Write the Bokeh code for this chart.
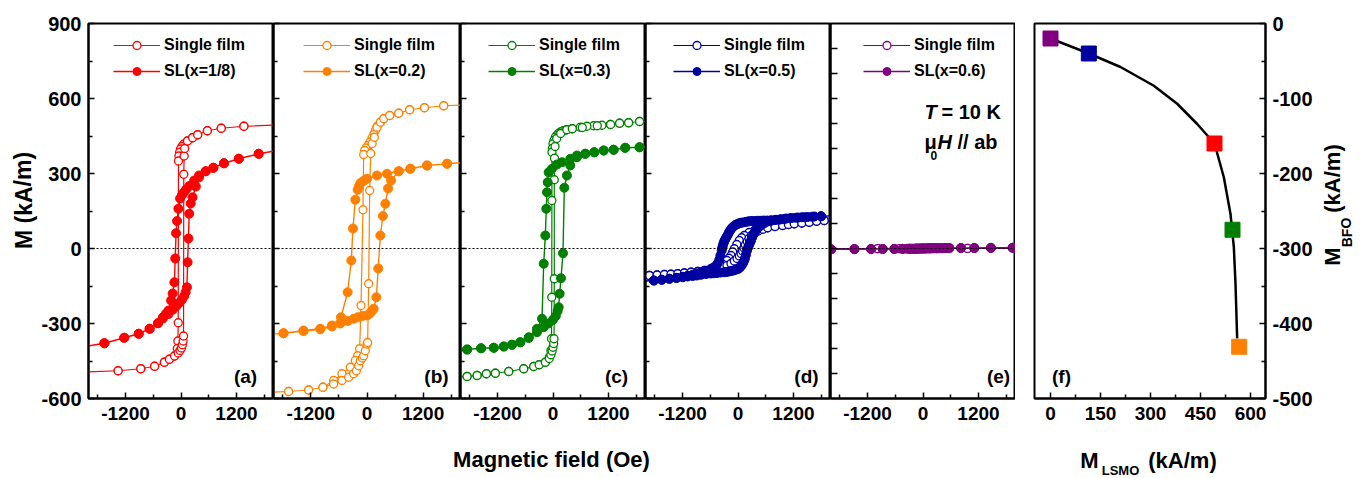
from bokeh.plotting import figure
from bokeh.layouts import row, column
from bokeh.models import FixedTicker, Range1d, Span, Legend, LegendItem, Label, ColumnDataSource
from bokeh.embed import file_html
from bokeh.resources import INLINE

FONT = "Liberation Sans"

# ---------------- data ----------------
# panel (a)  red
a_single_H_down = [2500, 1360, 870, 570, 360, 250, 140, 60, 20, -10, -30, -45, -55, -60, -68, -80, -140, -250, -360, -570, -870, -1360, -2500]
a_single_M_down = [497, 489, 481, 471, 455, 443, 430, 418, 408, 398, 385, 370, 350, -297, -370, -400, -430, -443, -455, -471, -481, -489, -497]
a_single_H_up = [-2500, -1360, -870, -570, -360, -250, -140, -60, -20, 10, 30, 45, 55, 60, 68, 80, 140, 250, 360, 570, 870, 1360, 2500]
a_single_M_up = [-497, -489, -481, -471, -455, -443, -430, -418, -408, -398, -385, -370, -350, 297, 370, 400, 430, 443, 455, 471, 481, 489, 497]
a_sl_H_down = [2500, 1680, 1250, 930, 700, 535, 390, 285, 180, 110, 60, 20, -20, -57, -85, -107, -125, -143, -180, -214, -271, -330, -392, -499, -678, -914, -1227, -1656, -2500]
a_sl_M_down = [405, 379, 359, 341, 323, 309, 292, 272, 250, 236, 224, 213, 200, 159, 110, 61, -40, -135, -180, -208, -248, -262, -275, -299, -321, -341, -357, -379, -405]
a_sl_H_up = [-2500, -1656, -1227, -914, -678, -499, -392, -271, -180, -100, -40, 20, 70, 100, 128, 143, 160, 178, 210, 250, 321, 392, 535, 700, 930, 1250, 1680, 2500]
a_sl_M_up = [-405, -379, -357, -341, -321, -299, -280, -262, -245, -230, -218, -205, -190, -175, -155, -55, 40, 139, 180, 205, 248, 285, 309, 323, 341, 359, 379, 405]

# panel (b)  orange
b_single_H_down = [2500, 1641, 1228, 913, 678, 485, 357, 285, 214, 178, 143, 107, 60, 20, -20, -50, -71, -86, -128, -157, -200, -250, -357, -535, -714, -943, -1249, -1678, -2500]
b_single_M_down = [578, 571, 563, 555, 541, 532, 519, 505, 488, 472, 456, 442, 425, 412, 402, 392, 376, 155, -228, -401, -429, -448, -475, -501, -528, -555, -566, -572, -578]
b_single_H_up = [-2500, -1678, -1249, -943, -714, -535, -392, -285, -228, -178, -143, -100, -71, -36, 0, 13, 36, 57, 80, 110, 157, 214, 285, 357, 485, 678, 913, 1228, 1641, 2500]
b_single_M_up = [-578, -572, -566, -555, -542, -528, -515, -501, -489, -469, -449, -438, -429, -409, -382, -376, -141, 232, 380, 420, 445, 485, 505, 519, 532, 541, 555, 563, 571, 578]
b_sl_H_down = [2500, 1713, 1285, 927, 678, 428, 214, 0, -60, -100, -143, -170, -200, -250, -300, -336, -414, -557, -750, -1000, -1357, -1785, -2500]
b_sl_M_down = [350, 339, 332, 319, 309, 299, 292, 279, 272, 267, 261, 250, 235, 195, 80, -48, -175, -275, -308, -321, -328, -339, -350]
b_sl_H_up = [-2500, -1785, -1357, -1000, -750, -571, -414, -286, -200, -100, 0, 60, 100, 143, 200, 240, 285, 340, 392, 450, 514, 678, 927, 1285, 1713, 2500]
b_sl_M_up = [-350, -339, -330, -323, -312, -300, -290, -281, -275, -270, -268, -260, -252, -241, -195, -80, 52, 130, 179, 240, 272, 309, 319, 332, 339, 350]

# panel (c)  green
c_single_H_down = [2500, 1872, 1635, 1440, 1238, 1058, 879, 734, 590, 410, 300, 231, 170, 123, 80, 50, 20, 0, -15, -22, -24, -27, -32, -45, -80, -166, -300, -417, -633, -957, -1246, -1440, -1641, -1857, -2500]
c_single_M_down = [516, 508, 503, 501, 496, 493, 491, 489, 485, 479, 475, 472, 467, 461, 453, 445, 432, 419, 400, 385, 192, -195, -361, -408, -435, -455, -465, -472, -481, -492, -499, -501, -508, -512, -520]
c_single_H_up = [-2500, -1857, -1641, -1440, -1246, -957, -633, -417, -300, -166, -80, -45, -20, 0, 15, 22, 28, 28, 32, 45, 80, 166, 300, 417, 633, 957, 1246, 1440, 1635, 1872, 2500]
c_single_M_up = [-520, -512, -508, -501, -499, -492, -481, -472, -465, -455, -440, -425, -410, -395, -380, -361, -121, 275, 361, 408, 440, 460, 475, 479, 484, 491, 496, 501, 503, 508, 516]
c_sl_H_down = [2500, 1872, 1562, 1311, 1095, 892, 698, 518, 374, 194, 86, -22, -94, -115, -130, -145, -166, -201, -238, -346, -525, -706, -886, -1065, -1281, -1555, -1857, -2500]
c_sl_M_down = [410, 405, 403, 395, 392, 385, 379, 372, 359, 345, 336, 319, 305, 265, 225, 159, 52, -61, -281, -321, -355, -375, -385, -392, -397, -399, -404, -410]
c_sl_H_up = [-2500, -1857, -1555, -1281, -1065, -886, -706, -525, -346, -200, -100, 0, 60, 100, 123, 144, 173, 216, 245, 302, 374, 518, 698, 892, 1095, 1311, 1562, 1872, 2500]
c_sl_M_up = [-410, -404, -399, -397, -392, -385, -375, -358, -335, -315, -300, -285, -270, -250, -235, -181, -119, -19, 243, 292, 332, 365, 379, 385, 392, 395, 403, 405, 410]

# panel (d)  blue
d_single_H_down = [2500, 1864, 1700, 1540, 1380, 1216, 1090, 965, 800, 641, 500, 352, 240, 136, 80, 28, -25, -80, -115, -151, -195, -238, -330, -439, -580, -727, -870, -1015, -1160, -1303, -1450, -1591, -1750, -1915, -2500]
d_single_M_down = [118, 112, 109, 105, 102, 99, 96, 92, 88, 83, 78, 72, 64, 52, 43, 32, 16, -1, -14, -28, -39, -48, -63, -75, -82, -88, -92, -95, -98, -101, -103, -104, -106, -108, -115]
d_single_H_up = [-2500, -1915, -1750, -1591, -1450, -1303, -1160, -1015, -870, -727, -580, -439, -330, -238, -151, -80, -20, 28, 65, 100, 130, 160, 200, 238, 290, 352, 439, 540, 641, 800, 965, 1090, 1216, 1380, 1540, 1700, 1864, 2500]
d_single_M_up = [-115, -108, -106, -104, -103, -101, -98, -95, -92, -88, -84, -78, -72, -68, -60, -50, -40, -30, -20, -10, 2, 15, 28, 40, 52, 60, 70, 77, 83, 88, 92, 96, 99, 102, 105, 109, 112, 118]
d_sl_H_down = [2500, 1793, 1600, 1432, 1300, 1160, 1040, 929, 820, 713, 630, 550, 480, 425, 360, 300, 250, 209, 160, 100, 60, 28, -10, -50, -85, -116, -145, -170, -190, -209, -235, -260, -280, -296, -315, -330, -342, -352, -380, -404, -440, -480, -530, -583, -690, -799, -890, -979, -1090, -1194, -1330, -1483, -1650, -1821, -2500]
d_sl_M_down = [135, 129, 127, 125, 124, 122, 120, 117, 115, 113, 112, 112, 111, 111, 110, 110, 109, 108, 106, 104, 103, 101, 98, 95, 90, 85, 79, 72, 66, 59, 50, 42, 35, 29, 20, 10, 2, -8, -28, -45, -60, -70, -76, -81, -89, -95, -100, -105, -109, -113, -117, -121, -125, -128, -135]
d_sl_H_up = [-2500, -1821, -1650, -1483, -1330, -1194, -1090, -979, -890, -799, -690, -583, -510, -450, -380, -300, -250, -200, -150, -100, -50, 0, 30, 60, 85, 110, 130, 150, 172, 194, 218, 240, 260, 281, 305, 330, 360, 389, 430, 480, 560, 641, 720, 800, 900, 1000, 1120, 1250, 1380, 1500, 1650, 1800, 2500]
d_sl_M_up = [-135, -128, -125, -121, -118, -115, -112, -110, -108, -105, -102, -100, -99, -98, -96, -95, -94, -92, -90, -88, -85, -82, -78, -72, -66, -58, -50, -40, -25, -8, 4, 14, 23, 32, 44, 55, 64, 72, 82, 90, 100, 108, 111, 114, 116, 118, 121, 123, 125, 126, 128, 129, 135]

# panel (e)  purple
e_single_H_down = [2500, 965, 500, 300, 150, 0, -150, -300, -500, -978, -2500]
e_single_M_down = [1, 0.5, 0.5, 0, 0, 0, 0, 0, -0.5, -0.5, -1]
e_single_H_up = [-2500, -978, -500, -300, -150, 0, 150, 300, 500, 965, 2500]
e_single_M_up = [-1, -0.5, -0.5, 0, 0, 0, 0, 0, 0.5, 0.5, 1]
e_sl_H_down = [2500, 1937, 1468, 1108, 821, 568, 500, 430, 370, 310, 260, 210, 160, 120, 80, 40, 0, -40, -80, -120, -160, -200, -250, -296, -438, -620, -871, -1123, -1483, -1987, -2500]
e_sl_M_down = [3, 3, 2, 2, 2, 1.5, 1.5, 1, 1, 1, 1, 1, 0.5, 0.5, 0.5, 0, 0, 0, -0.5, -0.5, -1, -1, -1, -1.5, -1.5, -2, -2, -2, -3, -3, -3]
e_sl_H_up = [-2500, -1987, -1483, -1123, -871, -620, -438, -350, -280, -220, -170, -130, -90, -50, -10, 30, 70, 110, 150, 190, 230, 280, 330, 400, 480, 568, 821, 1108, 1468, 1937, 2500]
e_sl_M_up = [-3, -3, -2, -2, -2, -1.5, -1.5, -1, -1, -1, -0.5, -0.5, 0, 0, 0, 0.5, 0.5, 1, 1, 1, 1, 1.5, 1.5, 1.5, 2, 2, 2, 2, 3, 3, 3]

# panel (f)
f_M_LSMO = [0, 115, 492, 546, 566]
f_M_BFO = [-20, -40, -160, -275, -431]
f_colors = ["#800080", "#0000a0", "#ff0000", "#008000", "#ff8000"]
f_fit_x = [0, 115, 210, 310, 380, 440, 492, 520, 540, 550, 555, 560]
f_fit_y = [-20, -40, -58, -83, -107, -134, -160, -205, -254, -298, -347, -420]

h_ticks = [-1200, 0, 1200]
h_minor = [-1800, -600, 600, 1800]
m_ticks = [-600, -300, 0, 300, 600, 900]
m_minor = [-450, -150, 150, 450, 750]
e_ticks = [-500, -400, -300, -200, -100, 0, 100, 200, 300, 400, 500, 600, 700, 800]
f_xticks = [0, 150, 300, 450, 600]
f_xminor = [75, 225, 375, 525]
f_yticks = [0, -100, -200, -300, -400, -500]
f_yminor = [-50, -150, -250, -350, -450]


def hyphen_labels(ticks):
    return {t: ("-%d" % abs(t) if t < 0 else "%d" % t) for t in ticks}


def style_axis(ax, size):
    ax.axis_line_width = 2
    ax.axis_line_color = "black"
    ax.major_tick_in = 6
    ax.major_tick_out = 0
    ax.minor_tick_in = 4
    ax.minor_tick_out = 0
    ax.major_tick_line_width = 1.5
    ax.minor_tick_line_width = 1.5
    ax.major_tick_line_color = "black"
    ax.minor_tick_line_color = "black"
    ax.major_label_text_font = FONT
    ax.major_label_text_font_style = "bold"
    ax.major_label_text_font_size = size
    ax.major_label_text_color = "black"


def txt(p, x, y, text, size, style="bold", align="left", angle=0):
    # anchored at the vertical middle of the text box
    p.add_layout(Label(x=x, y=y, x_units="screen", y_units="screen", text=text,
                       text_font=FONT, text_font_style=style, text_font_size=size,
                       text_align=align, text_baseline="middle", angle=angle,
                       text_color="black"))


def panel(frame_w, left_border, color, sH, sM, lH, lM, sl_label, tag, tag_x, leg_x,
          show_labels, yt, ym):
    p = figure(frame_width=frame_w, frame_height=375, min_border_left=left_border,
               min_border_right=0, min_border_top=23, min_border_bottom=40,
               x_range=Range1d(-2000, 2000), y_range=Range1d(-600, 900),
               toolbar_location=None, output_backend="svg")
    p.grid.visible = False
    p.outline_line_color = "black"
    p.outline_line_width = 2
    p.xaxis.ticker = FixedTicker(ticks=h_ticks, minor_ticks=h_minor)
    p.yaxis.ticker = FixedTicker(ticks=yt, minor_ticks=ym)
    style_axis(p.xaxis[0], "19px")
    p.xaxis.major_label_overrides = hyphen_labels(h_ticks)
    p.xaxis.major_label_standoff = 8
    style_axis(p.yaxis[0], "20px")
    if show_labels:
        p.yaxis.major_label_standoff = 7
        p.yaxis.major_label_overrides = hyphen_labels(yt)
    else:
        p.yaxis.major_label_overrides = {t: "" for t in yt}
        p.yaxis.major_label_standoff = 0
        if not ym:
            p.yaxis.major_tick_in = 7
    p.add_layout(Span(location=0, dimension="width", line_color="black",
                      line_dash="2 2", line_width=1))
    r1l = p.line(sH, sM, line_color=color, line_width=1.2)
    r1s = p.scatter(sH, sM, marker="circle", size=8, line_color=color,
                    fill_color="white", line_width=1.3)
    r2l = p.line(lH, lM, line_color=color, line_width=1.4)
    r2s = p.scatter(lH, lM, marker="circle", size=9, line_color=color,
                    fill_color=color, line_width=1)
    leg = Legend(items=[LegendItem(label="Single film", renderers=[r1l, r1s]),
                        LegendItem(label=sl_label, renderers=[r2l, r2s])],
                 location=(leg_x, 317), glyph_width=47, glyph_height=20,
                 label_height=20, spacing=6, label_standoff=4, padding=0, margin=0,
                 border_line_alpha=0, background_fill_alpha=0,
                 label_text_font=FONT, label_text_font_style="bold",
                 label_text_font_size="16px", label_text_color="black")
    p.add_layout(leg)
    txt(p, tag_x, 22, tag, "19px", align="center")
    return p


def strip(w, h):
    s = figure(width=w, height=h, min_border_left=0, min_border_right=0,
               min_border_top=0, min_border_bottom=0,
               x_axis_type=None, y_axis_type=None,
               x_range=Range1d(0, 1), y_range=Range1d(0, 1),
               toolbar_location=None, output_backend="svg")
    s.grid.visible = False
    s.outline_line_color = None
    return s


pa = panel(185, 50, "#ff0000",
           a_single_H_down + a_single_H_up, a_single_M_down + a_single_M_up,
           a_sl_H_down + a_sl_H_up, a_sl_M_down + a_sl_M_up,
           "SL(x=1/8)", "(a)", 157, 25, True, m_ticks, m_minor)
pb = panel(187, 0, "#ff8000",
           b_single_H_down + b_single_H_up, b_single_M_down + b_single_M_up,
           b_sl_H_down + b_sl_H_up, b_sl_M_down + b_sl_M_up,
           "SL(x=0.2)", "(b)", 163, 30, False, m_ticks, m_minor)
pc = panel(185, 0, "#008000",
           c_single_H_down + c_single_H_up, c_single_M_down + c_single_M_up,
           c_sl_H_down + c_sl_H_up, c_sl_M_down + c_sl_M_up,
           "SL(x=0.3)", "(c)", 156, 28, False, m_ticks, m_minor)
pd = panel(185, 0, "#0000a0",
           d_single_H_down + d_single_H_up, d_single_M_down + d_single_M_up,
           d_sl_H_down + d_sl_H_up, d_sl_M_down + d_sl_M_up,
           "SL(x=0.5)", "(d)", 161, 28, False, m_ticks, m_minor)
pe = panel(185, 0, "#800080",
           e_single_H_down + e_single_H_up, e_single_M_down + e_single_M_up,
           e_sl_H_down + e_sl_H_up, e_sl_M_down + e_sl_M_up,
           "SL(x=0.6)", "(e)", 168, 33, False, e_ticks, [])

txt(pe, 94, 287, "T", "20px", style="bold italic")
txt(pe, 111, 287, "= 10 K", "20px")
txt(pe, 94, 257, "\u03bc", "20px")
txt(pe, 100, 243, "0", "12px")
txt(pe, 107, 257, "H", "20px", style="bold italic")
txt(pe, 127, 257, "// ab", "20px")

# panel (f)
pf = figure(frame_width=231, frame_height=375, min_border_left=19, min_border_right=53,
            min_border_top=23, min_border_bottom=40,
            x_range=Range1d(-48, 645), y_range=Range1d(-500, 0),
            y_axis_location="right", toolbar_location=None, output_backend="svg")
pf.grid.visible = False
pf.outline_line_color = "black"
pf.outline_line_width = 2
pf.xaxis.ticker = FixedTicker(ticks=f_xticks, minor_ticks=f_xminor)
pf.yaxis.ticker = FixedTicker(ticks=f_yticks, minor_ticks=f_yminor)
style_axis(pf.xaxis[0], "19px")
pf.xaxis.major_label_standoff = 8
style_axis(pf.yaxis[0], "20px")
pf.yaxis.major_label_standoff = 7
pf.yaxis.major_label_overrides = hyphen_labels(f_yticks)
pf.line(f_fit_x, f_fit_y, line_color="black", line_width=2.5)
fsrc = ColumnDataSource(dict(x=f_M_LSMO, y=f_M_BFO, c=f_colors))
pf.scatter("x", "y", source=fsrc, marker="square", size=15, fill_color="c", line_color="c")
txt(pf, 27, 22, "(f)", "19px", align="center")

# side strips holding the axis titles (their frames line up with the panels: y 23..398)
ls = strip(38, 438)
txt(ls, 23, 198, "M (kA/m)", "23px", align="center", angle=1.5708)
rs = strip(44, 438)
txt(rs, 14, 142, "M", "22px", align="center", angle=1.5708)
txt(rs, 28, 166, "BFO", "14px", align="center", angle=1.5708)
txt(rs, 14, 220, "(kA/m)", "22px", align="center", angle=1.5708)
bs = strip(1362, 40)
txt(bs, 551, 19, "Magnetic field (Oe)", "22px", align="center")
txt(bs, 1089, 18, "M", "22px", align="center")
txt(bs, 1120, 8, "LSMO", "13px", align="center")
txt(bs, 1182, 18, "(kA/m)", "22px", align="center")

layout = column(row(ls, pa, pb, pc, pd, pe, pf, rs), bs)
open("out.html", "w").write(file_html(layout, INLINE))
